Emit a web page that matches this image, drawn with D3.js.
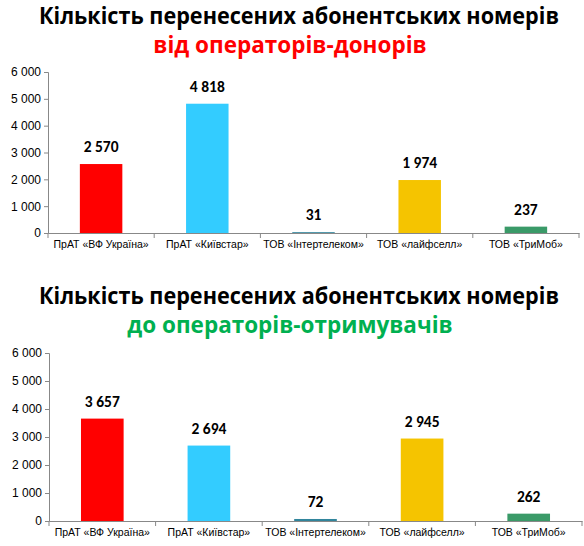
<!DOCTYPE html>
<html><head><meta charset="utf-8">
<script src="https://cdn.jsdelivr.net/npm/d3@7"></script>
<style>body{margin:0;background:#fff;font-family:Calibri,Carlito,"Open Sans",sans-serif}</style>
</head><body><svg id="c" width="584" height="546"></svg>
<script>
const categories = ["ПрАТ «ВФ Україна»","ПрАТ «Київстар»","ТОВ «Інтертелеком»","ТОВ «лайфселл»","ТОВ «ТриМоб»"];
const donors = [2570, 4818, 31, 1974, 237];
const recipients = [3657, 2694, 72, 2945, 262];
const colors = ["#ff0000","#33ccff","#31859c","#f5c400","#3a9a68"];
const yTicks = [0,1000,2000,3000,4000,5000,6000];
const fmt = v => d3.format(",")(v).replace(/,/g, " ");
const svg = d3.select("#c");

function chart(values, t1, t2, t2col, tY, x0, x1, yTop, yBot) {
  svg.append("text").attr("x",299).attr("y",tY).attr("text-anchor","middle")
    .attr("font-size",22.5).attr("font-family","Open Sans").attr("font-weight","bold").attr("fill","#000")
    .attr("textLength",520).attr("lengthAdjust","spacingAndGlyphs").text(t1);
  svg.append("text").attr("x",290).attr("y",tY+29).attr("text-anchor","middle")
    .attr("font-size",22.5).attr("font-family","Open Sans").attr("font-weight","bold").attr("fill",t2col).text(t2);
  const x = d3.scaleBand().domain(categories).range([x0,x1]).paddingInner(0.6).paddingOuter(0.3);
  const xo = d3.scaleBand().domain(categories).range([x0,x1]);
  const y = d3.scaleLinear().domain([0,6000]).range([yBot,yTop]);
  const g = svg.append("g");
  g.append("g").attr("transform",`translate(${x0},0)`)
    .call(d3.axisLeft(y).tickValues(yTicks).tickFormat(fmt).tickSize(4))
    .call(a=>{a.selectAll("text").attr("font-size",12).attr("fill","#000").attr("font-family","inherit");
      a.selectAll("line,path").attr("stroke","#888");});
  const xa = g.append("g").attr("transform",`translate(0,${yBot})`)
    .call(d3.axisBottom(xo).tickSize(0).tickPadding(8))
    .call(a=>{a.selectAll("text").attr("font-size",10.5).attr("fill","#000").attr("font-family","inherit");
      a.select("path").attr("stroke","#888");});
  xa.selectAll(".sep").data(categories.concat(["end"])).join("line")
    .attr("x1",(d,i)=>x0+i*xo.bandwidth()).attr("x2",(d,i)=>x0+i*xo.bandwidth())
    .attr("y1",0).attr("y2",5).attr("stroke","#888");
  g.selectAll("rect.b").data(values).join("rect")
    .attr("x",(d,i)=>x(categories[i])).attr("width",x.bandwidth())
    .attr("y",d=>y(d)).attr("height",d=>yBot-y(d)).attr("fill",(d,i)=>colors[i]);
  g.selectAll("text.v").data(values).join("text")
    .attr("x",(d,i)=>x(categories[i])+x.bandwidth()/2).attr("y",d=>y(d)-12)
    .attr("text-anchor","middle").attr("font-size",15.5).attr("font-weight","bold").text(fmt);
}
chart(donors,"Кількість  перенесених абонентських номерів","від операторів-донорів","#ff0000",24,48,579,72,233);
chart(recipients,"Кількість  перенесених абонентських номерів","до операторів-отримувачів","#00b050",304,49,582,353,521);
</script></body></html>
